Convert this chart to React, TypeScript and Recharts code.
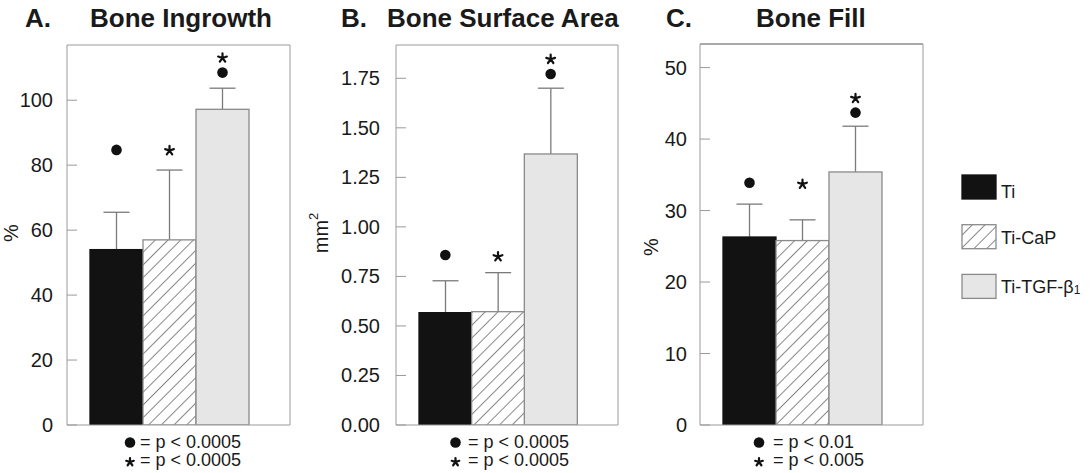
import React from "react";
import { ComposedChart, Bar, Scatter, XAxis, YAxis } from "recharts";

const GROUPS = ["Ti", "Ti-CaP", "Ti-TGF-β1"];
const FILLS = ["#121212", "hatch", "#e6e6e6"];
const STROKES = ["#121212", "#8a8a8a", "#8a8a8a"];

// A. bone ingrowth (%)
const INGROWTH_MEAN = [54, 57, 97.2];
const INGROWTH_ERR = [11.5, 21.5, 6.5];
const INGROWTH_DOT = [84.7, null, 108.5];
const INGROWTH_STAR = [null, 84.5, 113];
const INGROWTH_TICKS = [0, 20, 40, 60, 80, 100];

// B. bone surface area (mm2)
const AREA_MEAN = [0.567, 0.572, 1.368];
const AREA_ERR = [0.161, 0.197, 0.332];
const AREA_DOT = [0.858, null, 1.772];
const AREA_STAR = [null, 0.85, 1.846];
const AREA_TICKS = [0, 0.25, 0.5, 0.75, 1, 1.25, 1.5, 1.75];

// C. bone fill (%)
const FILL_MEAN = [26.3, 25.8, 35.4];
const FILL_ERR = [4.6, 2.9, 6.4];
const FILL_DOT = [33.9, null, 43.7];
const FILL_STAR = [null, 33.7, 45.7];
const FILL_TICKS = [0, 10, 20, 30, 40, 50];

const FONT = "'Liberation Sans', Arial, Helvetica, sans-serif";
const INK = "#1a1a1a";
const FRAME = "#9a9a9a";
const WHISKER = "#7a7a7a";

const PANELS = [
  {
    id: "a", letter: "A.", title: "Bone Ingrowth", titleX: 90, letterX: 25,
    mean: INGROWTH_MEAN, err: INGROWTH_ERR, dot: INGROWTH_DOT, star: INGROWTH_STAR,
    ticks: INGROWTH_TICKS, max: 117, fmt: (v: number) => String(v),
    left: 0, axisW: 67, plotW: 223, plotTop: 45, tickGap: 14, topFrame: FRAME,
    yLabel: "%", yLabelX: 11, yLabelY: 233,
    notes: ["= p < 0.0005", "= p < 0.0005"], noteMarkX: 130, noteTextX: 140,
  },
  {
    id: "b", letter: "B.", title: "Bone Surface Area", titleX: 387, letterX: 341,
    mean: AREA_MEAN, err: AREA_ERR, dot: AREA_DOT, star: AREA_STAR,
    ticks: AREA_TICKS, max: 1.918, fmt: (v: number) => v.toFixed(2),
    left: 300, axisW: 96, plotW: 222, plotTop: 45, tickGap: 16, topFrame: FRAME,
    yLabel: "mm", yLabelX: 321, yLabelY: 233,
    notes: ["= p < 0.0005", "= p < 0.0005"], noteMarkX: 455.5, noteTextX: 468,
  },
  {
    id: "c", letter: "C.", title: "Bone Fill", titleX: 756, letterX: 666,
    mean: FILL_MEAN, err: FILL_ERR, dot: FILL_DOT, star: FILL_STAR,
    ticks: FILL_TICKS, max: 53.3, fmt: (v: number) => String(v),
    left: 640, axisW: 60, plotW: 223, plotTop: 44, tickGap: 13, topFrame: "#555",
    yLabel: "%", yLabelX: 651, yLabelY: 247,
    notes: ["= p < 0.01", "= p < 0.005"], noteMarkX: 759, noteTextX: 773,
  },
];

const Hatch = ({ id }: { id: string }) => (
  <pattern id={id} patternUnits="userSpaceOnUse" width={9} height={9} patternTransform="rotate(45)">
    <rect width={9} height={9} fill="#fff" />
    <line x1={0} y1={0} x2={0} y2={9} stroke="#6a6a6a" strokeWidth={1.6} />
  </pattern>
);

const starPath = (cx: number, cy: number, r: number) => {
  let d = "";
  for (let k = 0; k < 5; k++) {
    const a = -Math.PI / 2 + (k * 2 * Math.PI) / 5;
    d += `M${cx},${cy}L${cx + r * Math.cos(a)},${cy + r * Math.sin(a)}`;
  }
  return d;
};

const StarGlyph = ({ cx, cy, r }: any) => (
  <path d={starPath(cx, cy, r)} stroke="#111" strokeWidth={2.2} strokeLinecap="round" fill="none" />
);

const BarWithWhisker = (props: any) => {
  const { x, y, width, height, index, payload, hatchId } = props;
  if (!Number.isFinite(y) || !payload) return <g />;
  const perUnit = payload.mean ? height / payload.mean : 0;
  const top = y - payload.err * perUnit;
  const cx = x + width / 2;
  const fill = FILLS[index] === "hatch" ? `url(#${hatchId})` : FILLS[index];
  return (
    <g>
      <line x1={cx} x2={cx} y1={y} y2={top} stroke={WHISKER} strokeWidth={1.3} />
      <line x1={cx - 13} x2={cx + 13} y1={top} y2={top} stroke={WHISKER} strokeWidth={1.3} />
      <rect x={x} y={y} width={width} height={height} fill={fill} stroke={STROKES[index]} strokeWidth={1.3} />
    </g>
  );
};

const DotMark = (p: any) =>
  p.payload?.dot == null ? <g /> : <circle cx={p.cx} cy={p.cy} r={5.3} fill="#111" />;

const StarMark = (p: any) =>
  p.payload?.star == null ? <g /> : <StarGlyph cx={p.cx} cy={p.cy} r={4.6} />;

const Panel = ({ cfg }: any) => {
  const rows = GROUPS.map((name, i) => ({
    name,
    mean: cfg.mean[i],
    err: cfg.err[i],
    dot: cfg.dot[i],
    star: cfg.star[i],
  }));
  const hatchId = `hatch-${cfg.id}`;
  const tick = (p: any) => (
    <g>
      <line x1={p.x + cfg.tickGap} x2={p.x + cfg.tickGap + 10} y1={p.y} y2={p.y} stroke={FRAME} />
      <text x={p.x} y={p.y} dy="0.35em" textAnchor="end" fontSize={20} fill={INK} fontFamily={FONT}>
        {cfg.fmt(p.payload.value)}
      </text>
    </g>
  );
  return (
    <div style={{ position: "absolute", left: cfg.left, top: 0 }}>
      <ComposedChart
        width={cfg.axisW + cfg.plotW + 2}
        height={473}
        data={rows}
        margin={{ top: cfg.plotTop - 1, right: 1, bottom: 47, left: 0 }}
        barCategoryGap={0}
        barGap={0}
      >
        <defs>
          <Hatch id={hatchId} />
        </defs>
        <XAxis dataKey="name" padding={{ left: 23, right: 41 }} height={1} tick={false} tickLine={false} axisLine={{ stroke: FRAME }} />
        <XAxis xAxisId="top" orientation="top" dataKey="name" height={1} tick={false} tickLine={false} axisLine={{ stroke: cfg.topFrame }} />
        <YAxis
          domain={[0, cfg.max]}
          ticks={cfg.ticks}
          interval={0}
          width={cfg.axisW}
          tickLine={false}
          tickSize={0}
          tickMargin={cfg.tickGap}
          axisLine={{ stroke: FRAME }}
          tick={tick}
          allowDataOverflow
        />
        <YAxis yAxisId="right" orientation="right" width={1} domain={[0, 1]} tick={false} tickLine={false} axisLine={{ stroke: FRAME }} />
        <Bar dataKey="mean" isAnimationActive={false} shape={(p: any) => <BarWithWhisker {...p} hatchId={hatchId} />} />
        <Scatter dataKey="dot" isAnimationActive={false} shape={DotMark} />
        <Scatter dataKey="star" isAnimationActive={false} shape={StarMark} />
      </ComposedChart>
    </div>
  );
};

const Overlay = () => (
  <svg width={1090} height={473} style={{ position: "absolute", left: 0, top: 0, pointerEvents: "none" }} fontFamily={FONT}>
    <defs>
      <Hatch id="hatch-legend" />
    </defs>
    {PANELS.map((cfg) => (
      <g key={cfg.id}>
        <text x={cfg.letterX} y={27} fontSize={26} fontWeight="bold" fill={INK}>{cfg.letter}</text>
        <text x={cfg.titleX} y={27} fontSize={26} fontWeight="bold" fill={INK}>{cfg.title}</text>
        <text
          x={cfg.yLabelX}
          y={cfg.yLabelY}
          fontSize={20}
          fill={INK}
          textAnchor="middle"
          dominantBaseline="central"
          transform={`rotate(-90 ${cfg.yLabelX} ${cfg.yLabelY})`}
        >
          {cfg.yLabel}
          {cfg.yLabel === "mm" && <tspan fontSize={13} dy={-8}>2</tspan>}
        </text>
        <circle cx={cfg.noteMarkX} cy={442.5} r={5.3} fill="#111" />
        <text x={cfg.noteTextX} y={448} fontSize={18} fill={INK}>{cfg.notes[0]}</text>
        <StarGlyph cx={cfg.noteMarkX} cy={462} r={4} />
        <text x={cfg.noteTextX} y={466} fontSize={18} fill={INK}>{cfg.notes[1]}</text>
      </g>
    ))}
    {GROUPS.map((name, i) => {
      const top = 175 + i * 49.7;
      const fill = FILLS[i] === "hatch" ? "url(#hatch-legend)" : FILLS[i];
      const beta = name.endsWith("β1");
      return (
        <g key={name}>
          <rect x={962} y={top} width={34} height={24} fill={fill} stroke={STROKES[i]} strokeWidth={1.3} />
          <text x={1001} y={top + 23 - (i === 0 ? 0 : 4)} fontSize={18} fill={INK}>
            {beta ? name.slice(0, -1) : name}
            {beta && <tspan fontSize={12} dy={1}>1</tspan>}
          </text>
        </g>
      );
    })}
  </svg>
);

export default function App() {
  return (
    <div style={{ position: "absolute", left: 0, top: 0, width: 1090, height: 473, background: "#fff", fontFamily: FONT }}>
      {PANELS.map((cfg) => (
        <Panel key={cfg.id} cfg={cfg} />
      ))}
      <Overlay />
    </div>
  );
}
